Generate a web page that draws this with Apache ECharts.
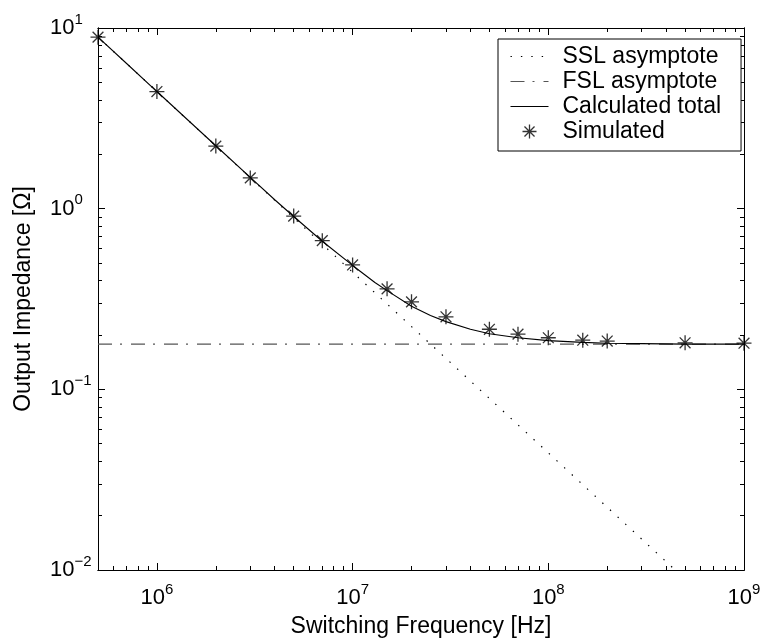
<!DOCTYPE html>
<html>
<head>
<meta charset="utf-8">
<script src="https://cdn.jsdelivr.net/npm/echarts@6/dist/echarts.min.js"></script>
<style>
  html, body { margin: 0; padding: 0; background: #fff; }
  #chart { width: 765px; height: 643px; }
</style>
</head>
<body>
<div id="chart"></div>
<script>
const FONT = '"Liberation Sans", Arial, Helvetica, sans-serif'

// simulated points
const simFreq = [5e5, 1e6, 2e6, 3e6, 5e6, 7e6, 1e7, 1.5e7, 2e7, 3e7, 5e7, 7e7, 1e8, 1.5e8, 2e8, 5e8, 1e9]
const simZ = [8.9, 4.45, 2.22, 1.48, 0.91, 0.665, 0.488, 0.36, 0.305, 0.252, 0.215, 0.202, 0.193, 0.187, 0.185, 0.181, 0.18]

// calculated total curve
const calcFreq = [5e5, 7e5, 1e6, 1.5e6, 2e6, 3e6, 4e6, 5e6, 7e6, 1e7, 1.3e7, 1.5e7, 2e7, 2.5e7, 3e7, 4e7, 5e7, 7e7, 1e8, 1.5e8, 2e8, 3e8, 5e8, 1e9]
const calcZ = [8.9, 6.36, 4.45, 2.97, 2.23, 1.49, 1.12, 0.905, 0.66, 0.485, 0.39, 0.352, 0.288, 0.256, 0.237, 0.215, 0.203, 0.193, 0.186, 0.182, 0.18, 0.179, 0.178, 0.178]

// asymptotes
const sslFreq = [5e5, 4.45e8]
const sslZ = [8.9, 0.01]
const fslFreq = [5e5, 1e9]
const fslZ = [0.178, 0.178]

// axes
const xRange = [5e5, 1e9]
const yRange = [0.01, 10]
const xMajor = [1e6, 1e7, 1e8, 1e9]
const yMajor = [0.01, 0.1, 1, 10]
const xMinor = [6e5, 7e5, 8e5, 9e5,
  2e6, 3e6, 4e6, 5e6, 6e6, 7e6, 8e6, 9e6,
  2e7, 3e7, 4e7, 5e7, 6e7, 7e7, 8e7, 9e7,
  2e8, 3e8, 4e8, 5e8, 6e8, 7e8, 8e8, 9e8]
const yMinor = [0.02, 0.03, 0.04, 0.05, 0.06, 0.07, 0.08, 0.09,
  0.2, 0.3, 0.4, 0.5, 0.6, 0.7, 0.8, 0.9,
  2, 3, 4, 5, 6, 7, 8, 9]

const lg = Math.log10
const toXY = (xs, ys) => xs.map((f, i) => [lg(f), lg(ys[i])])

const STAR = 'path://M0,-1L0,1M-1,0L1,0M-0.72,-0.72L0.72,0.72M-0.72,0.72L0.72,-0.72'

const supRich = {
  b: { fontSize: 22, lineHeight: 32, color: '#000', fontFamily: FONT },
  s: { fontSize: 15, lineHeight: 15, verticalAlign: 'top', color: '#000', fontFamily: FONT }
}
function powLabel(v) {
  const e = Math.round(v)
  return '{b|10}{s|' + (e < 0 ? '\u2212' + (-e) : e) + '}'
}

// one axis = one side + one tick set; major and minor ticks are overlaid axes
function axis(range, pos, ticks, len, extra) {
  return Object.assign({
    type: 'value',
    position: pos,
    min: lg(range[0]),
    max: lg(range[1]),
    axisLine: { show: true, onZero: false, lineStyle: { color: '#000', width: 1 } },
    axisTick: { show: true, inside: true, length: len, customValues: ticks.map(lg), lineStyle: { color: '#000', width: 1 } },
    axisLabel: { show: false },
    splitLine: { show: false },
    minorTick: { show: false }
  }, extra || {})
}

const chart = echarts.init(document.getElementById('chart'))

const option = {
  animation: false,
  backgroundColor: '#fff',
  textStyle: { fontFamily: FONT },
  grid: { left: 98, right: 21, top: 28, bottom: 73, outerBoundsMode: 'none' },
  xAxis: [
    axis(xRange, 'bottom', xMajor, 7, {
      axisLabel: { show: true, margin: 12, customValues: xMajor.map(lg), formatter: powLabel, rich: supRich },
      name: 'Switching Frequency [Hz]',
      nameLocation: 'middle',
      nameGap: 45,
      nameTextStyle: { fontSize: 23, color: '#000', fontFamily: FONT }
    }),
    axis(xRange, 'bottom', xMinor, 4),
    axis(xRange, 'top', xMajor, 7),
    axis(xRange, 'top', xMinor, 4)
  ],
  yAxis: [
    axis(yRange, 'left', yMajor, 7, {
      axisLabel: { show: true, margin: 48, align: 'left', customValues: yMajor.map(lg), formatter: powLabel, rich: supRich },
      name: 'Output Impedance [\u03A9]',
      nameLocation: 'middle',
      nameGap: 63,
      nameTextStyle: { fontSize: 23, color: '#000', fontFamily: FONT }
    }),
    axis(yRange, 'left', yMinor, 4),
    axis(yRange, 'right', yMajor, 7),
    axis(yRange, 'right', yMinor, 4)
  ],
  legend: {
    orient: 'vertical',
    left: 498,
    top: 39,
    padding: [6, 20, 8, 12],
    itemGap: 2,
    itemWidth: 38,
    itemHeight: 14,
    borderColor: '#000',
    borderWidth: 1,
    borderRadius: 0,
    backgroundColor: '#fff',
    selectedMode: false,
    textStyle: { fontSize: 23, color: '#000', fontFamily: FONT, padding: [0, 0, 0, 9] },
    lineStyle: { width: 1 },
    data: [
      { name: 'SSL asymptote', itemStyle: { opacity: 0 } },
      { name: 'FSL asymptote', itemStyle: { opacity: 0 } },
      { name: 'Calculated total', itemStyle: { opacity: 0 } },
      { name: 'Simulated', itemStyle: { color: 'rgba(0,0,0,0)', borderColor: '#000', borderWidth: 1.3 } }
    ]
  },
  series: [
    {
      name: 'SSL asymptote',
      type: 'line',
      data: toXY(sslFreq, sslZ),
      symbol: 'none',
      silent: true,
      lineStyle: { color: '#000', width: 1.2, type: [1.4, 9] },
      itemStyle: { color: '#000' }
    },
    {
      name: 'FSL asymptote',
      type: 'line',
      data: toXY(fslFreq, fslZ),
      symbol: 'none',
      silent: true,
      lineStyle: { color: '#555', width: 1.3, type: [14, 8, 2, 9] },
      itemStyle: { color: '#555' }
    },
    {
      name: 'Calculated total',
      type: 'line',
      data: toXY(calcFreq, calcZ),
      symbol: 'none',
      silent: true,
      lineStyle: { color: '#000', width: 1.1 },
      itemStyle: { color: '#000' }
    },
    {
      name: 'Simulated',
      type: 'scatter',
      data: toXY(simFreq, simZ),
      symbol: STAR,
      symbolSize: 15,
      silent: true,
      itemStyle: { color: 'rgba(0,0,0,0)', borderColor: '#000', borderWidth: 1.3 },
      z: 5
    }
  ]
}

chart.setOption(option)
</script>
</body>
</html>
